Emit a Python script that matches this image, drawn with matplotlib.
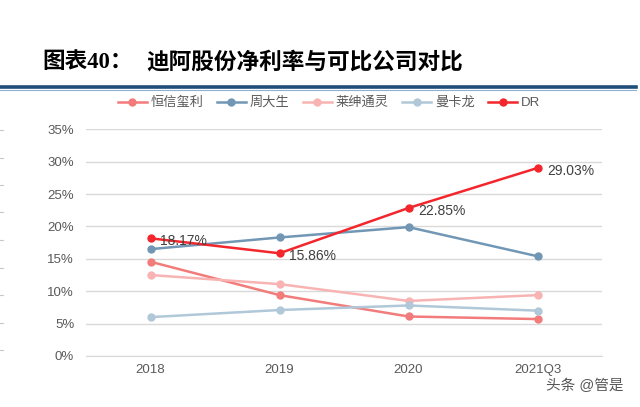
import matplotlib
matplotlib.use("Agg")
import matplotlib.pyplot as plt
from matplotlib.lines import Line2D

plt.rcParams['font.family'] = ['Liberation Sans', 'Noto Sans CJK SC', 'DejaVu Sans']

categories = ["2018", "2019", "2020", "2021Q3"]
hengxin = [14.55, 9.4, 6.1, 5.7]
zhoudasheng = [16.5, 18.3, 19.9, 15.4]
laishen = [12.5, 11.1, 8.5, 9.4]
mankalong = [6.0, 7.1, 7.8, 7.0]
dr = [18.17, 15.86, 22.85, 29.03]
series_names = ["恒信玺利", "周大生", "莱绅通灵", "曼卡龙", "DR"]
yticks = [0, 5, 10, 15, 20, 25, 30, 35]

colors = ["#F27B7B", "#7197B5", "#F8B3B3", "#B0C8D8", "#F2262C"]
series = [hengxin, zhoudasheng, laishen, mankalong, dr]

fig = plt.figure(figsize=(6.4, 4.07), dpi=100)
ax = fig.add_axes([86/640, 1-356/407, (602-86)/640, (356-129.3)/407])

x = list(range(len(categories)))
handles = []
for name, vals, c in zip(series_names, series, colors):
    ln, = ax.plot(x, vals, color=c, lw=1.8, marker='o', ms=5, mec=c, mfc=c, label=name,
                  zorder=3 if name == "DR" else 2)
    handles.append(ln)

for xi, v in zip(x, dr):
    ax.annotate(f"{v:.2f}%", (xi, v), xytext=(7, -2), textcoords='offset points',
                ha='left', va='center', fontsize=10, color='#404040', zorder=4)

ax.set_xlim(-0.5, 3.5)
ax.set_ylim(0, 35)
ax.set_yticks(yticks)
ax.set_yticklabels([f"{t}%" for t in yticks])
ax.set_xticks(x)
ax.set_xticklabels(categories)
ax.tick_params(axis='both', length=0, labelsize=9.5, colors='#595959')
ax.tick_params(axis='y', pad=8.5)
ax.tick_params(axis='x', pad=6)
ax.grid(axis='y', color='#D9D9D9', lw=1)
ax.set_axisbelow(True)
for s in ['top', 'right', 'left']:
    ax.spines[s].set_visible(False)
ax.spines['bottom'].set_color('#D9D9D9')

fig.legend(handles=handles, labels=series_names, loc='center', bbox_to_anchor=(329/640, 1-103/407),
           ncol=5, frameon=False, fontsize=9.5, handlelength=2.2, columnspacing=1.0,
           handletextpad=0.3, labelcolor='#595959')

fig.text(42/640, 1-62/407, "图表40：", fontsize=16.3,
         fontweight='bold', color='black', ha='left', va='center',
         family=['Liberation Serif', 'Noto Sans CJK SC'])
fig.text(146/640, 1-62/407, "迪阿股份净利率与可比公司对比", fontsize=16.3,
         fontweight='bold', color='black', ha='left', va='center',
         family=['Noto Sans CJK SC'])
fig.add_artist(Line2D([0, 636/640], [1-87/407, 1-87/407], color='#1F4E79', lw=2.6))
fig.add_artist(Line2D([0, 636/640], [1-89.5/407, 1-89.5/407], color='#8FB0CF', lw=0.8))

fig.text(624/640, 1-386/407, "头条 @管是", fontsize=10.5, color='#555555', ha='right', va='center')

for yy in [130, 157.7, 185, 212, 240, 267.7, 295, 322.7, 350]:
    fig.add_artist(Line2D([0, 3/640], [1-yy/407, 1-yy/407], color='#C8C8C8', lw=0.8))

fig.savefig("out.png", dpi=100)
